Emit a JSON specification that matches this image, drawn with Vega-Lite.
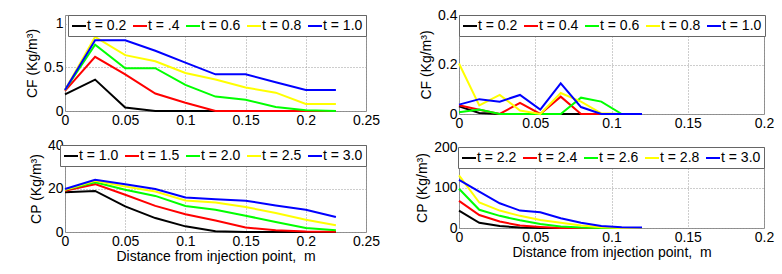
{
  "$schema": "https://vega.github.io/schema/vega-lite/v6.json",
  "padding": {"left": 25, "top": 7, "right": 0, "bottom": 0},
  "background": "white",
  "config": {
    "font": "Liberation Sans",
    "view": {"stroke": "#8c8c8c", "strokeWidth": 1},
    "axis": {
      "labelFontSize": 14, "titleFontSize": 14, "titleFontWeight": "normal",
      "labelColor": "black", "titleColor": "black", "ticks": false, "domain": false,
      "grid": true, "gridDash": [1, 2], "gridColor": "#9a9a9a", "gridOpacity": 1,
      "labelPadding": 2, "titlePadding": 4, "labelOverlap": false, "labelFlush": false
    },
    "legend": {
      "labelFontSize": 14, "labelColor": "black", "symbolType": "stroke", "symbolSize": 196,
      "symbolStrokeWidth": 2, "labelOffset": 0, "columnPadding": 2, "padding": 3,
      "fillColor": "white", "strokeColor": "#666666", "offset": 0, "direction": "horizontal", "columns": 5,
      "title": null, "labelLimit": 0
    },
    "line": {"strokeWidth": 2}
  },
  "datasets": {
    "cfL": [
      {"x": 0, "c": 0.19, "t": "t = 0.2"}, {"x": 0.025, "c": 0.36, "t": "t = 0.2"}, {"x": 0.05, "c": 0.04, "t": "t = 0.2"}, {"x": 0.075, "c": 0, "t": "t = 0.2"}, {"x": 0.1, "c": 0, "t": "t = 0.2"}, {"x": 0.125, "c": 0, "t": "t = 0.2"}, {"x": 0.15, "c": 0, "t": "t = 0.2"}, {"x": 0.175, "c": 0, "t": "t = 0.2"}, {"x": 0.2, "c": 0, "t": "t = 0.2"}, {"x": 0.225, "c": 0, "t": "t = 0.2"},
      {"x": 0, "c": 0.23, "t": "t = .4"}, {"x": 0.025, "c": 0.62, "t": "t = .4"}, {"x": 0.05, "c": 0.42, "t": "t = .4"}, {"x": 0.075, "c": 0.2, "t": "t = .4"}, {"x": 0.1, "c": 0.095, "t": "t = .4"}, {"x": 0.125, "c": 0, "t": "t = .4"}, {"x": 0.15, "c": 0, "t": "t = .4"}, {"x": 0.175, "c": 0, "t": "t = .4"}, {"x": 0.2, "c": 0, "t": "t = .4"}, {"x": 0.225, "c": 0, "t": "t = .4"},
      {"x": 0, "c": 0.24, "t": "t = 0.6"}, {"x": 0.025, "c": 0.76, "t": "t = 0.6"}, {"x": 0.05, "c": 0.49, "t": "t = 0.6"}, {"x": 0.075, "c": 0.49, "t": "t = 0.6"}, {"x": 0.1, "c": 0.3, "t": "t = 0.6"}, {"x": 0.125, "c": 0.165, "t": "t = 0.6"}, {"x": 0.15, "c": 0.13, "t": "t = 0.6"}, {"x": 0.175, "c": 0.045, "t": "t = 0.6"}, {"x": 0.2, "c": 0.01, "t": "t = 0.6"}, {"x": 0.225, "c": 0, "t": "t = 0.6"},
      {"x": 0, "c": 0.24, "t": "t = 0.8"}, {"x": 0.025, "c": 0.85, "t": "t = 0.8"}, {"x": 0.05, "c": 0.64, "t": "t = 0.8"}, {"x": 0.075, "c": 0.57, "t": "t = 0.8"}, {"x": 0.1, "c": 0.435, "t": "t = 0.8"}, {"x": 0.125, "c": 0.36, "t": "t = 0.8"}, {"x": 0.15, "c": 0.27, "t": "t = 0.8"}, {"x": 0.175, "c": 0.21, "t": "t = 0.8"}, {"x": 0.2, "c": 0.08, "t": "t = 0.8"}, {"x": 0.225, "c": 0.08, "t": "t = 0.8"},
      {"x": 0, "c": 0.24, "t": "t = 1.0"}, {"x": 0.025, "c": 0.81, "t": "t = 1.0"}, {"x": 0.05, "c": 0.81, "t": "t = 1.0"}, {"x": 0.075, "c": 0.69, "t": "t = 1.0"}, {"x": 0.1, "c": 0.555, "t": "t = 1.0"}, {"x": 0.125, "c": 0.42, "t": "t = 1.0"}, {"x": 0.15, "c": 0.42, "t": "t = 1.0"}, {"x": 0.175, "c": 0.33, "t": "t = 1.0"}, {"x": 0.2, "c": 0.24, "t": "t = 1.0"}, {"x": 0.225, "c": 0.24, "t": "t = 1.0"}
    ],
    "cpL": [
      {"x": 0, "c": 18.3, "t": "t = 1.0"}, {"x": 0.025, "c": 18.9, "t": "t = 1.0"}, {"x": 0.05, "c": 11.8, "t": "t = 1.0"}, {"x": 0.075, "c": 6.4, "t": "t = 1.0"}, {"x": 0.1, "c": 2.6, "t": "t = 1.0"}, {"x": 0.125, "c": 0.3, "t": "t = 1.0"}, {"x": 0.15, "c": 0, "t": "t = 1.0"}, {"x": 0.175, "c": 0, "t": "t = 1.0"}, {"x": 0.2, "c": 0, "t": "t = 1.0"}, {"x": 0.225, "c": 0, "t": "t = 1.0"},
      {"x": 0, "c": 18.9, "t": "t = 1.5"}, {"x": 0.025, "c": 22, "t": "t = 1.5"}, {"x": 0.05, "c": 17.1, "t": "t = 1.5"}, {"x": 0.075, "c": 12, "t": "t = 1.5"}, {"x": 0.1, "c": 8.2, "t": "t = 1.5"}, {"x": 0.125, "c": 5.3, "t": "t = 1.5"}, {"x": 0.15, "c": 2.1, "t": "t = 1.5"}, {"x": 0.175, "c": 0.8, "t": "t = 1.5"}, {"x": 0.2, "c": 0.2, "t": "t = 1.5"}, {"x": 0.225, "c": 0.1, "t": "t = 1.5"},
      {"x": 0, "c": 19.4, "t": "t = 2.0"}, {"x": 0.025, "c": 22.9, "t": "t = 2.0"}, {"x": 0.05, "c": 19.4, "t": "t = 2.0"}, {"x": 0.075, "c": 16.6, "t": "t = 2.0"}, {"x": 0.1, "c": 12, "t": "t = 2.0"}, {"x": 0.125, "c": 10.2, "t": "t = 2.0"}, {"x": 0.15, "c": 7.5, "t": "t = 2.0"}, {"x": 0.175, "c": 4.6, "t": "t = 2.0"}, {"x": 0.2, "c": 1.8, "t": "t = 2.0"}, {"x": 0.225, "c": 0.8, "t": "t = 2.0"},
      {"x": 0, "c": 19.4, "t": "t = 2.5"}, {"x": 0.025, "c": 23.5, "t": "t = 2.5"}, {"x": 0.05, "c": 20.9, "t": "t = 2.5"}, {"x": 0.075, "c": 18.6, "t": "t = 2.5"}, {"x": 0.1, "c": 14.5, "t": "t = 2.5"}, {"x": 0.125, "c": 13.6, "t": "t = 2.5"}, {"x": 0.15, "c": 11.5, "t": "t = 2.5"}, {"x": 0.175, "c": 8.7, "t": "t = 2.5"}, {"x": 0.2, "c": 5.6, "t": "t = 2.5"}, {"x": 0.225, "c": 3.1, "t": "t = 2.5"},
      {"x": 0, "c": 19.8, "t": "t = 3.0"}, {"x": 0.025, "c": 24, "t": "t = 3.0"}, {"x": 0.05, "c": 22, "t": "t = 3.0"}, {"x": 0.075, "c": 19.8, "t": "t = 3.0"}, {"x": 0.1, "c": 15.9, "t": "t = 3.0"}, {"x": 0.125, "c": 15.1, "t": "t = 3.0"}, {"x": 0.15, "c": 14.4, "t": "t = 3.0"}, {"x": 0.175, "c": 12.2, "t": "t = 3.0"}, {"x": 0.2, "c": 10.2, "t": "t = 3.0"}, {"x": 0.225, "c": 6.9, "t": "t = 3.0"}
    ],
    "cfR": [
      {"x": 0, "c": 0.031, "t": "t = 0.2"}, {"x": 0.0133, "c": 0.004, "t": "t = 0.2"}, {"x": 0.0267, "c": 0, "t": "t = 0.2"}, {"x": 0.04, "c": 0, "t": "t = 0.2"}, {"x": 0.0533, "c": 0, "t": "t = 0.2"}, {"x": 0.0667, "c": 0, "t": "t = 0.2"}, {"x": 0.08, "c": 0, "t": "t = 0.2"}, {"x": 0.0933, "c": 0, "t": "t = 0.2"}, {"x": 0.1067, "c": 0, "t": "t = 0.2"}, {"x": 0.12, "c": 0, "t": "t = 0.2"},
      {"x": 0, "c": 0.035, "t": "t = 0.4"}, {"x": 0.0133, "c": 0.017, "t": "t = 0.4"}, {"x": 0.0267, "c": 0, "t": "t = 0.4"}, {"x": 0.04, "c": 0.045, "t": "t = 0.4"}, {"x": 0.0533, "c": 0, "t": "t = 0.4"}, {"x": 0.0667, "c": 0.07, "t": "t = 0.4"}, {"x": 0.08, "c": 0, "t": "t = 0.4"}, {"x": 0.0933, "c": 0, "t": "t = 0.4"}, {"x": 0.1067, "c": 0, "t": "t = 0.4"}, {"x": 0.12, "c": 0, "t": "t = 0.4"},
      {"x": 0, "c": 0.007, "t": "t = 0.6"}, {"x": 0.0133, "c": 0.018, "t": "t = 0.6"}, {"x": 0.0267, "c": 0, "t": "t = 0.6"}, {"x": 0.04, "c": 0, "t": "t = 0.6"}, {"x": 0.0533, "c": 0, "t": "t = 0.6"}, {"x": 0.0667, "c": 0, "t": "t = 0.6"}, {"x": 0.08, "c": 0.066, "t": "t = 0.6"}, {"x": 0.0933, "c": 0.05, "t": "t = 0.6"}, {"x": 0.1067, "c": 0, "t": "t = 0.6"}, {"x": 0.12, "c": 0, "t": "t = 0.6"},
      {"x": 0, "c": 0.204, "t": "t = 0.8"}, {"x": 0.0133, "c": 0.035, "t": "t = 0.8"}, {"x": 0.0267, "c": 0.077, "t": "t = 0.8"}, {"x": 0.04, "c": 0.014, "t": "t = 0.8"}, {"x": 0.0533, "c": 0, "t": "t = 0.8"}, {"x": 0.0667, "c": 0.085, "t": "t = 0.8"}, {"x": 0.08, "c": 0.05, "t": "t = 0.8"}, {"x": 0.0933, "c": 0.003, "t": "t = 0.8"}, {"x": 0.1067, "c": 0, "t": "t = 0.8"}, {"x": 0.12, "c": 0, "t": "t = 0.8"},
      {"x": 0, "c": 0.038, "t": "t = 1.0"}, {"x": 0.0133, "c": 0.06, "t": "t = 1.0"}, {"x": 0.0267, "c": 0.05, "t": "t = 1.0"}, {"x": 0.04, "c": 0.077, "t": "t = 1.0"}, {"x": 0.0533, "c": 0.018, "t": "t = 1.0"}, {"x": 0.0667, "c": 0.124, "t": "t = 1.0"}, {"x": 0.08, "c": 0.028, "t": "t = 1.0"}, {"x": 0.0933, "c": 0, "t": "t = 1.0"}, {"x": 0.1067, "c": 0, "t": "t = 1.0"}, {"x": 0.12, "c": 0, "t": "t = 1.0"}
    ],
    "cpR": [
      {"x": 0, "c": 43, "t": "t = 2.2"}, {"x": 0.0133, "c": 13, "t": "t = 2.2"}, {"x": 0.0267, "c": 5, "t": "t = 2.2"}, {"x": 0.04, "c": 1, "t": "t = 2.2"}, {"x": 0.0533, "c": 0, "t": "t = 2.2"}, {"x": 0.0667, "c": 0, "t": "t = 2.2"}, {"x": 0.08, "c": 0, "t": "t = 2.2"}, {"x": 0.0933, "c": 0, "t": "t = 2.2"}, {"x": 0.1067, "c": 0, "t": "t = 2.2"}, {"x": 0.12, "c": 0, "t": "t = 2.2"},
      {"x": 0, "c": 67, "t": "t = 2.4"}, {"x": 0.0133, "c": 32, "t": "t = 2.4"}, {"x": 0.0267, "c": 16, "t": "t = 2.4"}, {"x": 0.04, "c": 6, "t": "t = 2.4"}, {"x": 0.0533, "c": 2.6, "t": "t = 2.4"}, {"x": 0.0667, "c": 0, "t": "t = 2.4"}, {"x": 0.08, "c": 0, "t": "t = 2.4"}, {"x": 0.0933, "c": 0, "t": "t = 2.4"}, {"x": 0.1067, "c": 0, "t": "t = 2.4"}, {"x": 0.12, "c": 0, "t": "t = 2.4"},
      {"x": 0, "c": 97, "t": "t = 2.6"}, {"x": 0.0133, "c": 45, "t": "t = 2.6"}, {"x": 0.0267, "c": 30, "t": "t = 2.6"}, {"x": 0.04, "c": 19, "t": "t = 2.6"}, {"x": 0.0533, "c": 10, "t": "t = 2.6"}, {"x": 0.0667, "c": 4, "t": "t = 2.6"}, {"x": 0.08, "c": 1, "t": "t = 2.6"}, {"x": 0.0933, "c": 0, "t": "t = 2.6"}, {"x": 0.1067, "c": 0, "t": "t = 2.6"}, {"x": 0.12, "c": 0, "t": "t = 2.6"},
      {"x": 0, "c": 130, "t": "t = 2.8"}, {"x": 0.0133, "c": 63, "t": "t = 2.8"}, {"x": 0.0267, "c": 43, "t": "t = 2.8"}, {"x": 0.04, "c": 30, "t": "t = 2.8"}, {"x": 0.0533, "c": 20, "t": "t = 2.8"}, {"x": 0.0667, "c": 13, "t": "t = 2.8"}, {"x": 0.08, "c": 6, "t": "t = 2.8"}, {"x": 0.0933, "c": 2, "t": "t = 2.8"}, {"x": 0.1067, "c": 0, "t": "t = 2.8"}, {"x": 0.12, "c": 0, "t": "t = 2.8"},
      {"x": 0, "c": 119, "t": "t = 3.0"}, {"x": 0.0133, "c": 90, "t": "t = 3.0"}, {"x": 0.0267, "c": 61, "t": "t = 3.0"}, {"x": 0.04, "c": 43, "t": "t = 3.0"}, {"x": 0.0533, "c": 39, "t": "t = 3.0"}, {"x": 0.0667, "c": 24, "t": "t = 3.0"}, {"x": 0.08, "c": 13, "t": "t = 3.0"}, {"x": 0.0933, "c": 5, "t": "t = 3.0"}, {"x": 0.1067, "c": 2, "t": "t = 3.0"}, {"x": 0.12, "c": 1, "t": "t = 3.0"}
    ]
  },
  "resolve": {"scale": {"color": "independent"}, "legend": {"color": "independent"}},
  "spacing": 34,
  "hconcat": [
    {
      "spacing": 9,
      "resolve": {"scale": {"color": "independent"}, "legend": {"color": "independent"}},
      "vconcat": [
        {
          "width": 301, "height": 96,
          "data": {"name": "cfL"},
          "mark": {"type": "line", "strokeWidth": 2},
          "encoding": {
            "x": {"field": "x", "type": "quantitative", "scale": {"domain": [0, 0.25], "nice": false}, "axis": {"values": [0, 0.05, 0.1, 0.15, 0.2, 0.25], "format": ".3~f", "title": null}},
            "y": {"field": "c", "type": "quantitative", "scale": {"domain": [0, 1.1], "nice": false}, "axis": {"values": [0, 0.5, 1], "format": ".3~f", "title": "CF (Kg/m³)"}},
            "color": {"field": "t", "type": "nominal", "sort": null, "scale": {"domain": ["t = 0.2", "t = .4", "t = 0.6", "t = 0.8", "t = 1.0"], "range": ["#000000", "#ff0000", "#00ff00", "#ffff00", "#0000ff"]}, "legend": {"orient": "top-right"}}
          }
        },
        {
          "width": 301, "height": 87,
          "data": {"name": "cpL"},
          "mark": {"type": "line", "strokeWidth": 2},
          "encoding": {
            "x": {"field": "x", "type": "quantitative", "scale": {"domain": [0, 0.25], "nice": false}, "axis": {"values": [0, 0.05, 0.1, 0.15, 0.2, 0.25], "format": ".3~f", "title": "Distance from injection point, \u00a0m", "titlePadding": 1}},
            "y": {"field": "c", "type": "quantitative", "scale": {"domain": [0, 40], "nice": false}, "axis": {"values": [0, 20, 40], "format": ".3~f", "title": "CP (Kg/m³)"}},
            "color": {"field": "t", "type": "nominal", "sort": null, "scale": {"domain": ["t = 1.0", "t = 1.5", "t = 2.0", "t = 2.5", "t = 3.0"], "range": ["#000000", "#ff0000", "#00ff00", "#ffff00", "#0000ff"]}, "legend": {"orient": "top-right"}}
          }
        }
      ]
    },
    {
      "spacing": 8,
      "resolve": {"scale": {"color": "independent"}, "legend": {"color": "independent"}},
      "vconcat": [
        {
          "width": 305, "height": 99,
          "data": {"name": "cfR"},
          "mark": {"type": "line", "strokeWidth": 2},
          "encoding": {
            "x": {"field": "x", "type": "quantitative", "scale": {"domain": [0, 0.2], "nice": false}, "axis": {"values": [0, 0.05, 0.1, 0.15, 0.2], "format": ".3~f", "title": null}},
            "y": {"field": "c", "type": "quantitative", "scale": {"domain": [0, 0.4], "nice": false}, "axis": {"values": [0, 0.2, 0.4], "format": ".3~f", "title": "CF (Kg/m³)"}},
            "color": {"field": "t", "type": "nominal", "sort": null, "scale": {"domain": ["t = 0.2", "t = 0.4", "t = 0.6", "t = 0.8", "t = 1.0"], "range": ["#000000", "#ff0000", "#00ff00", "#ffff00", "#0000ff"]}, "legend": {"orient": "top-left"}}
          }
        },
        {
          "width": 305, "height": 81,
          "data": {"name": "cpR"},
          "mark": {"type": "line", "strokeWidth": 2},
          "encoding": {
            "x": {"field": "x", "type": "quantitative", "scale": {"domain": [0, 0.2], "nice": false}, "axis": {"values": [0, 0.05, 0.1, 0.15, 0.2], "format": ".3~f", "title": "Distance from injection point, \u00a0m", "titlePadding": 1}},
            "y": {"field": "c", "type": "quantitative", "scale": {"domain": [0, 200], "nice": false}, "axis": {"values": [0, 100, 200], "format": ".3~f", "title": "CP (Kg/m³)"}},
            "color": {"field": "t", "type": "nominal", "sort": null, "scale": {"domain": ["t = 2.2", "t = 2.4", "t = 2.6", "t = 2.8", "t = 3.0"], "range": ["#000000", "#ff0000", "#00ff00", "#ffff00", "#0000ff"]}, "legend": {"orient": "top-right"}}
          }
        }
      ]
    }
  ]
}
